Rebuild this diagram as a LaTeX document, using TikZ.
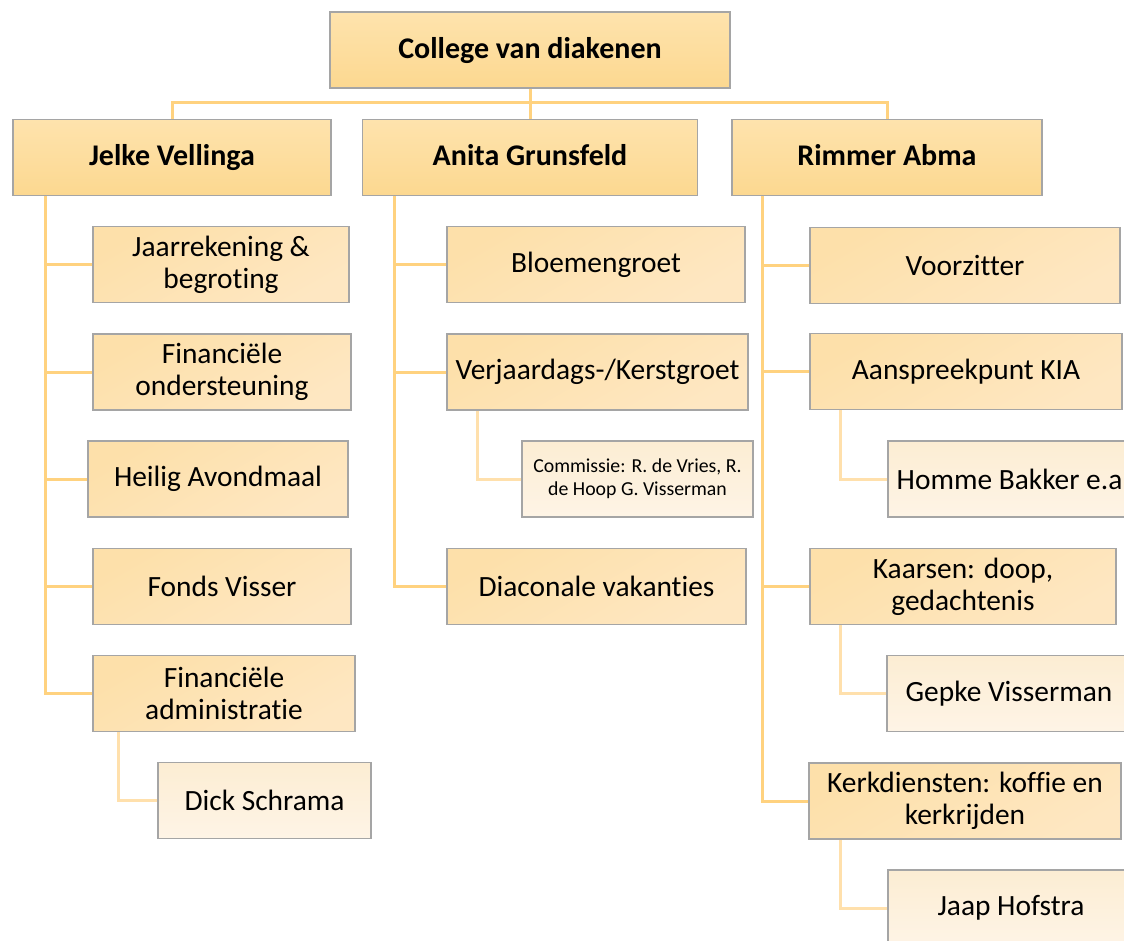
\documentclass[tikz,border=0pt]{standalone}
\usepackage{fontspec}
\setmainfont[Ligatures=NoCommon]{Carlito}
\usetikzlibrary{backgrounds}
\definecolor{boxline}{HTML}{A5A5A5}
\definecolor{headtop}{HTML}{FEE3AD}
\definecolor{headbot}{HTML}{FCD890}
\definecolor{tasktop}{HTML}{FDE0AA}
\definecolor{taskbot}{HTML}{FEE7C2}
\definecolor{memtop}{HTML}{FCEDD3}
\definecolor{membot}{HTML}{FEF4E6}
\definecolor{linkc}{HTML}{FFD27F}
\definecolor{sublinkc}{HTML}{FFE0AC}
\begin{document}
\begin{tikzpicture}[x=0.5pt,y=-0.5pt,box/.style={shape=rectangle,draw=boxline,line width=0.8pt,minimum height=38pt,inner sep=2pt,align=center,font=\fontsize{14.7}{16}\selectfont},boss/.style={box,top color=headtop,bottom color=headbot,font=\fontsize{15}{16}\selectfont\bfseries,text height=11.5pt,text depth=3pt},task/.style={box,top color=tasktop,bottom color=taskbot,shading angle=30},member/.style={box,top color=memtop,bottom color=membot},link/.style={draw=linkc,line width=1.5pt},sublink/.style={draw=sublinkc,line width=1.5pt}]
\def\dj{16.5pt};
\def\dr{15.5pt};

\useasboundingbox (0,0) rectangle (1124,941);
\clip (0,0) rectangle (1124,941);

\node[boss,minimum width=200pt] (college) at (530,50) {College van diakenen};
\node[boss,minimum width=159pt] (jelke) at (172,157.5) {Jelke Vellinga};
\node[boss,minimum width=167.5pt] (anita) at (530,157.5) {Anita Grunsfeld};
\node[boss,minimum width=155pt] (rimmer) at (887,157.5) {Rimmer Abma};

%JELKE
\node[task,minimum width=128pt] (jaar) at (221,264.5) {Jaarrekening \&\\begroting};
\node[task,minimum width=129pt] (steun) at (222,372) {Financiële\\ondersteuning};
\node[task,minimum width=130pt] (avond) at (218,479) {Heilig Avondmaal};
\node[task,minimum width=129pt] (fonds) at (222,586.5) {Fonds Visser};
\node[task,minimum width=131pt] (admin) at (224,693.5) {Financiële\\administratie};
\node[member,minimum width=106.5pt] (dick) at (264.5,800.5) {Dick Schrama};

%ANITA
\node[task,minimum width=149pt] (bloem) at (596,264.5) {Bloemengroet};
\node[task,minimum width=150.5pt] (kerst) at (597.5,372) {Verjaardags-/Kerstgroet};
\node[member,minimum width=115.5pt,font=\fontsize{9.9}{11.5}\selectfont] (comm) at (637.5,479) {Commissie: R. de Vries, R.\\de Hoop G. Visserman};
\node[task,minimum width=149.5pt] (vak) at (596.5,586.5) {Diaconale vakanties};

%RIMMER
\node[task,minimum width=155pt] (voorz) at (965,265.5) {Voorzitter};
\node[task,minimum width=156pt] (kia) at (966,371.5) {Aanspreekpunt KIA};
\node[member,minimum width=121.5pt] (homme) at (1009.5,479) {Homme Bakker e.a};
\node[task,minimum width=153pt] (kaars) at (963,586.5) {Kaarsen: doop,\\gedachtenis};
\node[member,minimum width=122pt] (gepke) at (1009,693.5) {Gepke Visserman};
\node[task,minimum width=156pt] (kerk) at (965,801) {Kerkdiensten: koffie en\\kerkrijden};
\node[member,minimum width=123pt] (jaap) at (1011,908) {Jaap Hofstra};

\begin{scope}[on background layer]
\coordinate (bar) at (530,103);
\draw[link] (college.south) -- (anita.north);
\draw[link] (jelke.north) |- (bar) -| (rimmer.north);

\coordinate (jspine) at ([xshift=\dj]jelke.south west);
\coordinate (aspine) at ([xshift=\dj]anita.south west);
\coordinate (rspine) at ([xshift=\dr]rimmer.south west);
\foreach \c in {jaar,steun,avond,fonds,admin} \draw[link] (jspine) |- (\c.west);
\foreach \c in {bloem,kerst,vak} \draw[link] (aspine) |- (\c.west);
\foreach \c in {voorz,kia,kaars,kerk} \draw[link] (rspine) |- (\c.west);

\draw[sublink] ([xshift=13pt]admin.south west) |- (dick.west);
\draw[sublink] ([xshift=\dr]kerst.south west) |- (comm.west);
\draw[sublink] ([xshift=\dr]kia.south west) |- (homme.west);
\draw[sublink] ([xshift=\dr]kaars.south west) |- (gepke.west);
\draw[sublink] ([xshift=16pt]kerk.south west) |- (jaap.west);
\end{scope}
\end{tikzpicture}
\end{document}
